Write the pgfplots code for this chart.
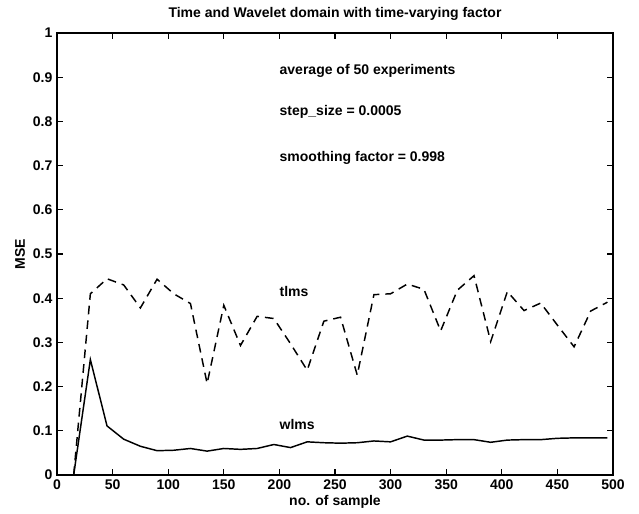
\documentclass[border=0pt]{standalone}
\usepackage{fontspec}
\setmainfont{Liberation Sans}
\usepackage{pgfplots}
\pgfplotsset{compat=1.18}

\begin{document}
\begin{tikzpicture}
\begin{axis}[
  scale only axis,
  width=417pt, height=331.5pt,
  xmin=0, xmax=500, ymin=0, ymax=1,
  xtick={0,50,100,150,200,250,300,350,400,450,500},
  ytick={0,0.1,0.2,0.3,0.4,0.5,0.6,0.7,0.8,0.9,1},
  tick align=inside,
  major tick length=4.5pt,
  axis line style={line width=1pt},
  tick style={black, line width=0.8pt},
  font=\fontsize{10.5}{12.5}\selectfont\bfseries,
  tick label style={font=\fontsize{10.5}{12.5}\selectfont\bfseries},
  /pgf/number format/assume math mode=true,
  title={Time and Wavelet domain with time-varying factor},
  title style={at={(axis description cs:0.5,1.035)}, anchor=base, inner sep=0pt, yshift=-6pt},
  xlabel={no. of sample},
  xlabel style={at={(axis description cs:0.5,-0.069)}, anchor=base, inner sep=0pt},
  ylabel={MSE},
  ylabel style={at={(axis description cs:-0.0576,0.5)}, anchor=base, inner sep=0pt},
  clip=false,
]
% tlms (time domain)
\addplot[black, line width=1.1pt, dash pattern=on 6.5pt off 4.5pt] coordinates {
  (15,0) (30,0.410) (45,0.444) (60,0.430) (75,0.378) (90,0.443)
  (105,0.410) (120,0.388) (135,0.207) (150,0.384) (165,0.293)
  (180,0.359) (195,0.354) (210,0.297) (225,0.237) (240,0.348)
  (255,0.357) (270,0.226) (285,0.408) (300,0.410) (315,0.432)
  (330,0.420) (345,0.326) (360,0.418) (375,0.451) (390,0.302)
  (405,0.415) (420,0.372) (435,0.389) (450,0.339) (465,0.290)
  (480,0.371) (495,0.391)
};
% wlms (wavelet domain)
\addplot[black, line width=1.1pt] coordinates {
  (15,0) (30,0.261) (45,0.111) (60,0.081) (75,0.065) (90,0.055)
  (105,0.056) (120,0.060) (135,0.054) (150,0.060) (165,0.058)
  (180,0.060) (195,0.069) (210,0.062) (225,0.075) (240,0.073)
  (255,0.072) (270,0.073) (285,0.077) (300,0.075) (315,0.088)
  (330,0.079) (345,0.079) (360,0.080) (375,0.080) (390,0.074)
  (405,0.079) (420,0.080) (435,0.080) (450,0.083) (465,0.084)
  (480,0.084) (495,0.084)
};
\node[anchor=base west, inner sep=0pt] at (axis cs:200,0.907) {average of 50 experiments};
\node[anchor=base west, inner sep=0pt] at (axis cs:200,0.814) {step\_size = 0.0005};
\node[anchor=base west, inner sep=0pt] at (axis cs:200,0.710) {smoothing factor = 0.998};
\node[anchor=base west, inner sep=0pt] at (axis cs:200,0.403) {tlms};
\node[anchor=base west, inner sep=0pt] at (axis cs:200,0.102) {wlms};
\end{axis}
\pgfresetboundingbox
\path ([shift={(-42.75pt,-29.25pt)}]current axis.south west) rectangle ([shift={(19.5pt,24.75pt)}]current axis.north east);
\end{tikzpicture}
\end{document}
